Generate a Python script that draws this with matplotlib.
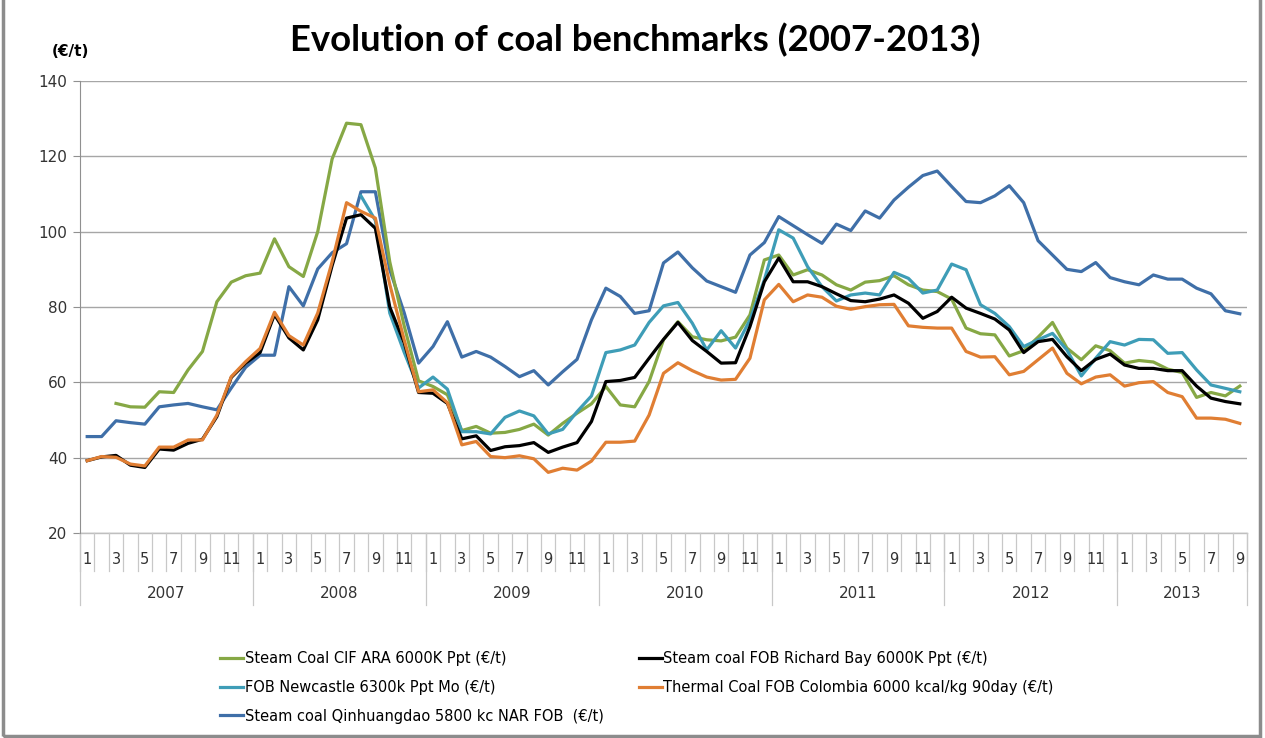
import numpy as np
import matplotlib
matplotlib.use("Agg")
import matplotlib.pyplot as plt
from matplotlib.transforms import blended_transform_factory
from matplotlib.patches import Rectangle

nan = np.nan
years = ["2007", "2008", "2009", "2010", "2011", "2012", "2013"]
months_per_year = [12, 12, 12, 12, 12, 12, 9]

ara = [nan, nan, 54.4, 53.5, 53.4, 57.5, 57.3, 63.3, 68.2, 81.4, 86.6, 88.3,
       89.0, 98.1, 90.7, 88.1, 100.0, 119.3, 128.8, 128.4, 116.9, 92.0, 75.0, 60.4,
       58.9, 56.7, 47.2, 48.3, 46.5, 46.7, 47.5, 48.9, 46.0, 49.1, 51.8, 54.3,
       58.9, 54.0, 53.5, 60.2, 71.3, 76.1, 72.1, 71.3, 71.0, 72.0, 77.9, 92.5,
       93.8, 88.5, 89.9, 88.5, 85.9, 84.5, 86.6, 87.0, 88.3, 85.9, 84.5, 84.1,
       82.1, 74.4, 72.9, 72.6, 67.0, 68.4, 72.0, 75.9, 69.1, 66.0, 69.7, 68.4,
       65.1, 65.8, 65.4, 63.5, 62.6, 56.0, 57.3, 56.4, 59.0]

richards_bay = [39.2, 40.2, 40.6, 38.0, 37.4, 42.3, 42.0, 43.8, 44.9, 50.9, 61.3, 65.1,
                67.9, 78.0, 71.8, 68.6, 76.6, 91.0, 103.6, 104.5, 100.9, 80.0, 70.5, 57.3,
                57.1, 54.4, 45.0, 45.8, 41.9, 42.9, 43.2, 44.0, 41.4, 42.8, 44.0, 49.6,
                60.2, 60.5, 61.3, 66.4, 71.4, 75.9, 71.1, 68.2, 65.1, 65.2, 74.8, 86.7,
                93.0, 86.7, 86.7, 85.4, 83.5, 81.7, 81.4, 82.1, 83.2, 81.0, 77.0, 78.8,
                82.6, 79.7, 78.3, 76.8, 73.9, 67.9, 70.8, 71.4, 66.8, 63.1, 66.1, 67.5,
                64.6, 63.7, 63.7, 63.1, 63.1, 59.0, 55.8, 54.9, 54.3]

newcastle = [nan] * 12 + \
            [nan, nan, nan, nan, nan, nan, nan, 109.5, 103.0, 78.4, 68.0, 58.5,
             61.4, 58.2, 46.9, 46.9, 46.3, 50.7, 52.4, 51.1, 46.3, 47.5, 52.2, 56.4,
             67.9, 68.6, 69.9, 75.9, 80.3, 81.2, 75.7, 68.6, 73.7, 69.1, 76.6, 87.2,
             100.5, 98.3, 90.7, 85.4, 81.6, 83.2, 83.7, 83.2, 89.2, 87.6, 83.7, 84.5,
             91.4, 89.9, 80.6, 78.3, 74.8, 69.5, 71.3, 73.0, 68.6, 61.7, 66.4, 70.8,
             69.9, 71.4, 71.3, 67.7, 67.9, 63.3, 59.3, 58.4, 57.5]

colombia = [39.2, 40.3, 40.1, 38.3, 37.8, 42.8, 42.8, 44.7, 44.7, 51.3, 61.5, 65.5,
            69.0, 78.6, 72.4, 69.9, 78.4, 92.0, 107.7, 105.4, 103.6, 86.0, 71.3, 57.5,
            58.0, 54.6, 43.4, 44.3, 40.3, 40.0, 40.5, 39.7, 36.1, 37.2, 36.7, 39.1,
            44.1, 44.1, 44.4, 51.3, 62.4, 65.2, 63.1, 61.4, 60.6, 60.8, 66.4, 81.9,
            86.0, 81.4, 83.2, 82.6, 80.2, 79.4, 80.1, 80.6, 80.7, 75.0, 74.6, 74.4,
            74.4, 68.2, 66.7, 66.8, 62.0, 62.9, 66.0, 69.1, 62.4, 59.6, 61.4, 62.0,
            59.0, 59.9, 60.2, 57.3, 56.2, 50.5, 50.5, 50.2, 49.1]

qinhuangdao = [45.6, 45.6, 49.8, 49.3, 48.9, 53.5, 54.0, 54.4, 53.5, 52.7, 58.5, 64.0,
               67.2, 67.2, 85.4, 80.3, 90.1, 94.4, 96.8, 110.6, 110.6, 89.9, 78.5, 65.1,
               69.5, 76.1, 66.7, 68.2, 66.7, 64.2, 61.5, 63.1, 59.3, 62.8, 66.1, 76.6,
               85.0, 82.8, 78.3, 79.0, 91.7, 94.6, 90.4, 86.9, 85.4, 83.9, 93.8, 97.1,
               104.0, 101.6, 99.2, 96.9, 102.0, 100.3, 105.5, 103.6, 108.4, 111.8, 114.9, 116.1,
               112.0, 108.0, 107.7, 109.5, 112.2, 107.7, 97.6, 93.8, 90.0, 89.4, 91.8, 87.8,
               86.7, 85.9, 88.5, 87.4, 87.4, 85.0, 83.5, 79.0, 78.2]

labels = ["Steam Coal CIF ARA 6000K Ppt (€/t)",
          "FOB Newcastle 6300k Ppt Mo (€/t)",
          "Steam coal Qinhuangdao 5800 kc NAR FOB  (€/t)",
          "Steam coal FOB Richard Bay 6000K Ppt (€/t)",
          "Thermal Coal FOB Colombia 6000 kcal/kg 90day (€/t)"]

plt.rcParams['font.family'] = ['DejaVu Sans']

fig = plt.figure(figsize=(12.65, 7.38), dpi=100)
ax = fig.add_axes([80 / 1265, 1 - 533 / 738, 1167 / 1265, 452 / 738])

n = len(qinhuangdao)
x = np.arange(n)
lw = 2.3
l_ara, = ax.plot(x, ara, color="#86A845", lw=lw)
l_nc, = ax.plot(x, newcastle, color="#3E9DB7", lw=lw)
l_qh, = ax.plot(x, qinhuangdao, color="#3F6FA8", lw=lw)
l_rb, = ax.plot(x, richards_bay, color="black", lw=lw)
l_co, = ax.plot(x, colombia, color="#E07E33", lw=lw)
# draw order like the original
l_qh.set_zorder(2)
l_ara.set_zorder(3)
l_nc.set_zorder(4)
l_rb.set_zorder(5)
l_co.set_zorder(6)

ax.set_ylim(20, 140)
ax.set_yticks(np.arange(20, 141, 20))
ax.set_xlim(-0.5, n - 0.5)
ax.set_xticks([])
ax.grid(axis="y", color="#A6A6A6", lw=1.0)
ax.set_axisbelow(True)
for s in ["top", "right", "bottom"]:
    ax.spines[s].set_visible(False)
ax.spines["left"].set_color("#909090")
ax.tick_params(axis="y", length=5, color="#909090", labelsize=11, labelcolor="#333333", pad=4)

# category axis: months and years
tr = blended_transform_factory(ax.transData, ax.transAxes)
ax.plot([-0.5, n - 0.5], [0, 0], transform=tr, color="#BFBFBF", lw=1, clip_on=False)
for b in np.arange(-0.5, n, 1):
    ax.plot([b, b], [0, -38 / 452], transform=tr, color="#C8C8C8", lw=0.9, clip_on=False)
for i in range(0, n, 2):
    ax.text(i, -27 / 452, str(i % 12 + 1), transform=tr, ha="center", va="center",
            fontsize=10.5, color="#333333")
start = 0
for yr, m in zip(years, months_per_year):
    ax.plot([start - 0.5, start - 0.5], [0, -72 / 452], transform=tr, color="#C8C8C8",
            lw=0.9, clip_on=False)
    ax.text(start + (m - 1) / 2, -60 / 452, yr, transform=tr, ha="center", va="center",
            fontsize=11, color="#333333")
    start += m
ax.plot([n - 0.5, n - 0.5], [0, -72 / 452], transform=tr, color="#C8C8C8", lw=0.9, clip_on=False)

fig.text(635 / 1265, 1 - 40 / 738, "Evolution of coal benchmarks (2007-2013)",
         ha="center", va="center", fontsize=26.3, fontweight="bold", family=["Lato", "DejaVu Sans"])
fig.text(70 / 1265, 1 - 52 / 738, "(€/t)", ha="center", va="center",
         fontsize=11, fontweight="bold")

fig.legend([l_ara, l_nc, l_qh, l_rb, l_co], labels, ncol=2, frameon=False,
           loc="upper left", bbox_to_anchor=(214 / 1265, 1 - 645 / 738),
           fontsize=10.5, handlelength=1.6, handletextpad=0.1,
           columnspacing=2.4, labelspacing=0.95, borderaxespad=0)

fig.patches.append(Rectangle((3 / 1265, 2 / 738), 1257 / 1265, 1.2, transform=fig.transFigure,
                             fill=False, edgecolor="#8C8C8C", lw=2.5))

fig.savefig("out.png", dpi=100)
